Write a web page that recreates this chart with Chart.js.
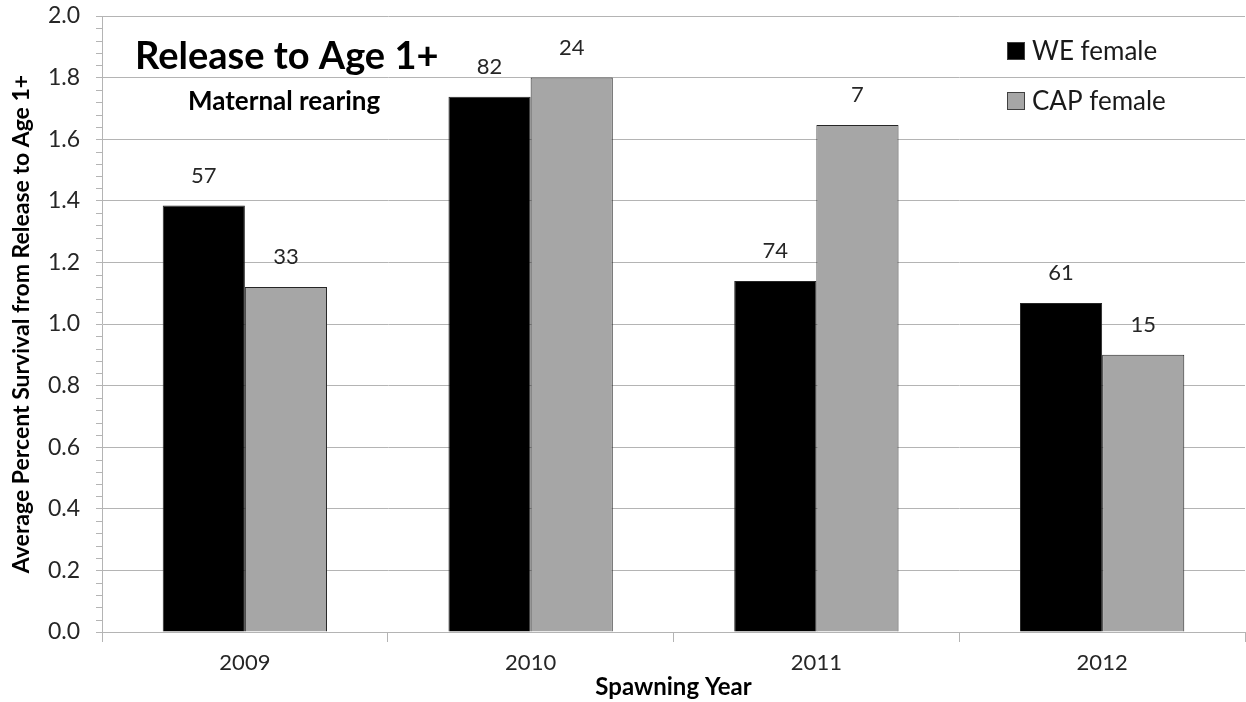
<!DOCTYPE html>
<html>
<head>
<meta charset="utf-8">
<script src="https://cdn.jsdelivr.net/npm/chart.js@4/dist/chart.umd.min.js"></script>
<style>
  html, body { margin: 0; padding: 0; background: #fff; }
  #wrap { width: 1246px; height: 702px; }
</style>
</head>
<body>
<div id="wrap"><canvas id="chart" width="1246" height="702"></canvas></div>
<script>
// data
const years = ['2009', '2010', '2011', '2012'];
const weFemale = [1.385, 1.738, 1.14, 1.068];
const capFemale = [1.12, 1.80, 1.646, 0.90];
const weCounts = [57, 82, 74, 61];
const capCounts = [33, 24, 7, 15];
const yTicks = [0, 0.2, 0.4, 0.6, 0.8, 1.0, 1.2, 1.4, 1.6, 1.8, 2.0];

const FONT = 'Lato, "Open Sans", sans-serif';
const gridColor = '#b4b4b4';

// titles, legend, counts above bars and minor ticks
const extras = {
  id: 'extras',
  afterDraw(chart) {
    const ctx = chart.ctx;
    const y = chart.scales.y;
    const area = chart.chartArea;
    ctx.save();

    // minor ticks on the y axis
    ctx.strokeStyle = gridColor;
    ctx.lineWidth = 1;
    for (let i = 0; i <= 50; i++) {
      if (i % 5 === 0) continue;
      const py = Math.round(y.getPixelForValue(i * 0.04)) + 0.5;
      ctx.beginPath();
      ctx.moveTo(area.left - 6, py);
      ctx.lineTo(area.left, py);
      ctx.stroke();
    }

    // chart titles
    ctx.fillStyle = '#000';
    ctx.textAlign = 'left';
    ctx.textBaseline = 'middle';
    ctx.font = 'bold 38px ' + FONT;
    ctx.fillText('Release to Age 1+', 135, 57);
    ctx.font = 'bold 26px ' + FONT;
    ctx.fillText('Maternal rearing', 188, 102);

    // legend
    const items = [
      { text: 'WE female', color: '#000000' },
      { text: 'CAP female', color: '#a6a6a6' }
    ];
    items.forEach((it, i) => {
      const cy = 51 + i * 50;
      ctx.fillStyle = it.color;
      ctx.fillRect(1007.5, cy - 8.5, 17, 17);
      ctx.strokeStyle = '#404040';
      ctx.strokeRect(1007.5, cy - 8.5, 17, 17);
      ctx.fillStyle = '#1a1a1a';
      ctx.font = '26px ' + FONT;
      ctx.fillText(it.text, 1032, cy + 1);
    });

    // counts above bars
    ctx.font = '22px ' + FONT;
    ctx.fillStyle = '#262626';
    ctx.textAlign = 'center';
    [weCounts, capCounts].forEach((counts, di) => {
      chart.getDatasetMeta(di).data.forEach((bar, i) => {
        ctx.fillText(String(counts[i]), bar.x, bar.y - 30);
      });
    });

    ctx.restore();
  }
};

new Chart(document.getElementById('chart'), {
  type: 'bar',
  data: {
    labels: years,
    datasets: [
      {
        label: 'WE female',
        data: weFemale,
        backgroundColor: '#000000',
        borderColor: '#262626',
        borderWidth: 1,
        categoryPercentage: 0.575,
        barPercentage: 1.0
      },
      {
        label: 'CAP female',
        data: capFemale,
        backgroundColor: '#a6a6a6',
        borderColor: '#262626',
        borderWidth: 1,
        categoryPercentage: 0.575,
        barPercentage: 1.0
      }
    ]
  },
  options: {
    responsive: false,
    animation: false,
    layout: { padding: { top: 16, right: 1, left: 0, bottom: 0 } },
    plugins: {
      legend: { display: false },
      tooltip: { enabled: false }
    },
    scales: {
      x: {
        grid: {
          offset: true,
          drawOnChartArea: false,
          tickLength: 10,
          color: gridColor
        },
        border: { color: gridColor },
        ticks: {
          color: '#262626',
          font: { family: FONT, size: 22 },
          padding: 8
        },
        title: {
          display: true,
          text: 'Spawning Year',
          color: '#000',
          font: { family: FONT, size: 24, weight: 'bold' },
          padding: { top: 0, bottom: 0 }
        },
        afterFit(scale) {
          scale.height = 70;
          scale.paddingLeft = 0;
          scale.paddingRight = 0;
        }
      },
      y: {
        min: 0,
        max: 2.0,
        afterBuildTicks(scale) {
          scale.ticks = yTicks.map(v => ({ value: v }));
        },
        grid: { color: gridColor, tickLength: 6 },
        border: { color: gridColor },
        ticks: {
          color: '#262626',
          font: { family: FONT, size: 23 },
          padding: 16,
          callback: v => Number(v).toFixed(1)
        },
        title: {
          display: true,
          text: 'Average Percent Survival from Release to Age 1+',
          color: '#000',
          font: { family: FONT, size: 23, weight: 'bold' },
          padding: { top: 8, bottom: 0 }
        },
        afterFit(scale) {
          scale.width = 102;
          scale.paddingTop = 0;
          scale.paddingBottom = 0;
        }
      }
    }
  },
  plugins: [extras]
});
</script>
</body>
</html>
